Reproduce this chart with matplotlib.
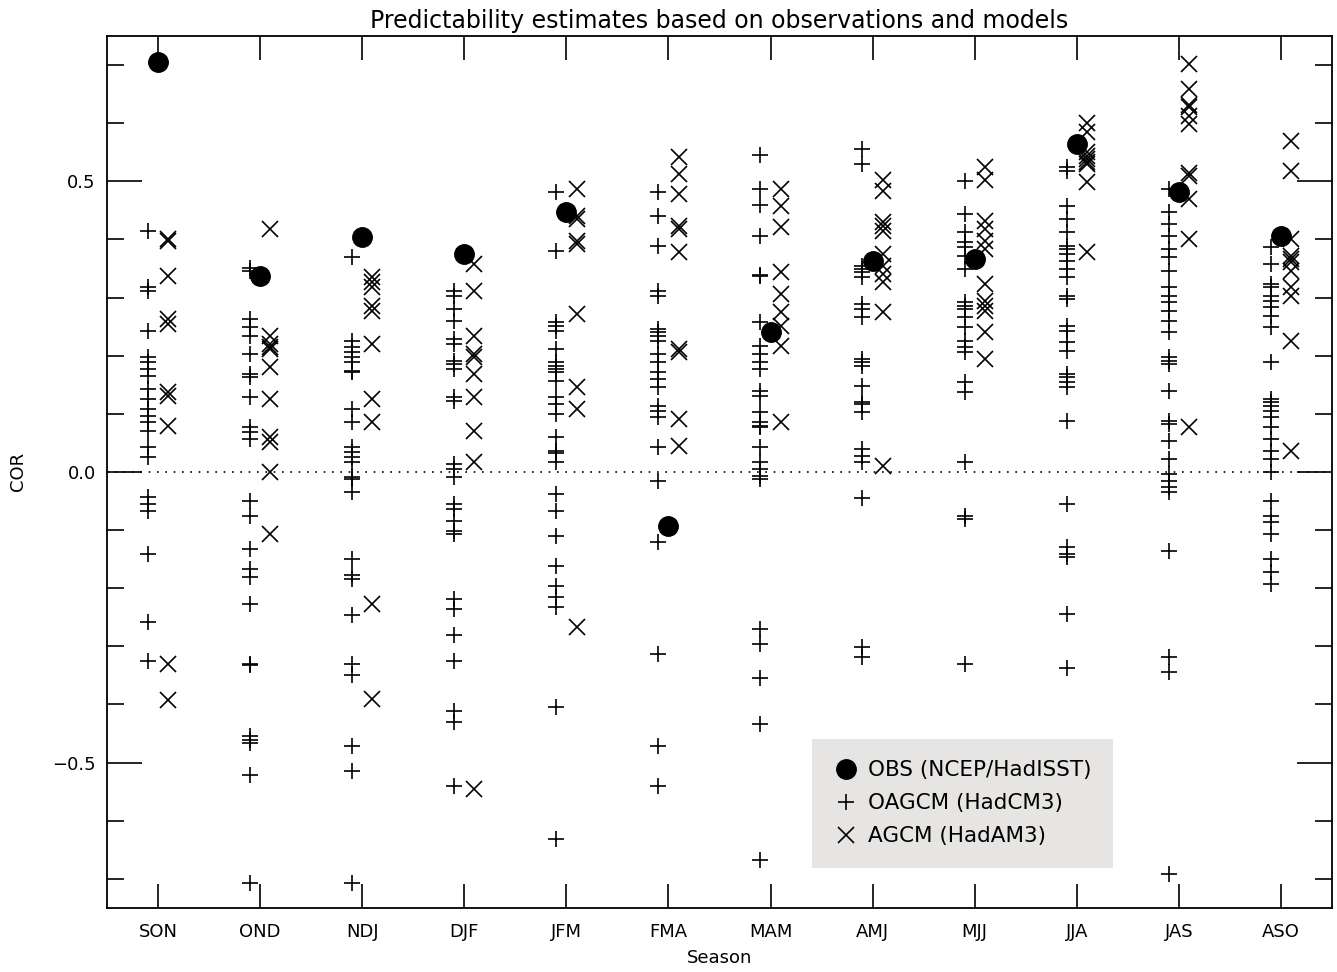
import numpy as np
import matplotlib
matplotlib.use("Agg")
import matplotlib.pyplot as plt
from matplotlib.ticker import MultipleLocator

seasons = ['SON', 'OND', 'NDJ', 'DJF', 'JFM', 'FMA', 'MAM', 'AMJ', 'MJJ', 'JJA', 'JAS', 'ASO']

obs = [0.706, 0.337, 0.404, 0.375, 0.448, -0.093, 0.241, 0.363, 0.366, 0.564, 0.481, 0.406]

# coupled model (OAGCM) ensemble values per season
oagcm = [
    [0.414, 0.318, 0.311, 0.242, 0.198, 0.189, 0.177, 0.165, 0.143, 0.125, 0.108, 0.096,
     0.086, 0.070, 0.043, 0.026, -0.043, -0.055, -0.067, -0.141, -0.258, -0.325],
    [0.350, 0.345, 0.263, 0.249, 0.234, 0.203, 0.168, 0.163, 0.129, 0.077, 0.069, 0.057,
     -0.050, -0.075, -0.132, -0.167, -0.180, -0.227, -0.330, -0.333, -0.455, -0.462,
     -0.467, -0.522, -0.708],
    [0.369, 0.225, 0.215, 0.206, 0.198, 0.189, 0.174, 0.172, 0.108, 0.086, 0.043, 0.034,
     0.026, 0.017, -0.009, -0.012, -0.034, -0.149, -0.178, -0.184, -0.247, -0.330,
     -0.350, -0.471, -0.514, -0.708],
    [0.311, 0.302, 0.280, 0.259, 0.228, 0.220, 0.191, 0.186, 0.177, 0.129, 0.122, 0.014,
     0.005, -0.009, -0.055, -0.064, -0.084, -0.101, -0.107, -0.218, -0.235, -0.281,
     -0.325, -0.412, -0.430, -0.541],
    [0.481, 0.380, 0.258, 0.251, 0.242, 0.211, 0.189, 0.182, 0.177, 0.172, 0.156, 0.129,
     0.117, 0.100, 0.060, 0.036, 0.033, 0.017, -0.038, -0.067, -0.110, -0.162, -0.196,
     -0.215, -0.232, -0.404, -0.631],
    [0.481, 0.440, 0.388, 0.311, 0.302, 0.246, 0.241, 0.234, 0.225, 0.203, 0.189, 0.172,
     0.160, 0.146, 0.113, 0.105, 0.095, 0.043, -0.015, -0.120, -0.313, -0.471, -0.541],
    [0.545, 0.486, 0.459, 0.406, 0.338, 0.337, 0.258, 0.217, 0.203, 0.189, 0.177, 0.139,
     0.131, 0.103, 0.086, 0.079, 0.077, 0.043, 0.017, 0.005, -0.007, -0.012, -0.270,
     -0.296, -0.354, -0.433, -0.668],
    [0.555, 0.529, 0.354, 0.349, 0.344, 0.335, 0.289, 0.280, 0.266, 0.194, 0.189, 0.182,
     0.148, 0.120, 0.117, 0.103, 0.040, 0.027, 0.017, -0.045, -0.301, -0.318],
    [0.500, 0.443, 0.412, 0.395, 0.387, 0.371, 0.349, 0.292, 0.285, 0.280, 0.266, 0.249,
     0.225, 0.215, 0.206, 0.155, 0.137, 0.017, -0.075, -0.081, -0.330],
    [0.524, 0.517, 0.457, 0.435, 0.412, 0.388, 0.383, 0.375, 0.363, 0.349, 0.335, 0.302,
     0.297, 0.251, 0.242, 0.223, 0.208, 0.168, 0.163, 0.155, 0.146, 0.088, -0.055,
     -0.129, -0.141, -0.146, -0.244, -0.337],
    [0.486, 0.447, 0.426, 0.406, 0.383, 0.369, 0.345, 0.318, 0.302, 0.292, 0.277, 0.259,
     0.241, 0.198, 0.191, 0.186, 0.139, 0.088, 0.082, 0.053, 0.022, -0.003, -0.015,
     -0.026, -0.034, -0.136, -0.318, -0.344, -0.691],
    [0.387, 0.357, 0.323, 0.318, 0.302, 0.294, 0.284, 0.268, 0.249, 0.189, 0.125, 0.120,
     0.113, 0.105, 0.095, 0.077, 0.057, 0.036, 0.022, 0.000, -0.050, -0.075, -0.086,
     -0.107, -0.149, -0.172, -0.192],
]

# atmosphere-only model (AGCM) values per season
agcm = [
    [0.400, 0.398, 0.337, 0.263, 0.254, 0.137, 0.131, 0.079, -0.330, -0.393],
    [0.418, 0.234, 0.220, 0.215, 0.211, 0.180, 0.125, 0.060, 0.052, 0.000, -0.107],
    [0.335, 0.326, 0.318, 0.285, 0.277, 0.220, 0.125, 0.086, -0.227, -0.390],
    [0.357, 0.311, 0.234, 0.203, 0.198, 0.168, 0.129, 0.070, 0.017, -0.545],
    [0.486, 0.440, 0.435, 0.397, 0.392, 0.271, 0.146, 0.108, -0.266],
    [0.541, 0.512, 0.478, 0.423, 0.418, 0.378, 0.211, 0.206, 0.091, 0.045],
    [0.486, 0.457, 0.421, 0.344, 0.306, 0.275, 0.251, 0.217, 0.086],
    [0.503, 0.483, 0.430, 0.423, 0.414, 0.375, 0.354, 0.340, 0.326, 0.275, 0.010],
    [0.524, 0.503, 0.431, 0.418, 0.397, 0.383, 0.323, 0.294, 0.285, 0.277, 0.241, 0.194],
    [0.601, 0.584, 0.550, 0.543, 0.538, 0.534, 0.529, 0.498, 0.378],
    [0.701, 0.658, 0.632, 0.627, 0.612, 0.598, 0.515, 0.509, 0.469, 0.400, 0.077],
    [0.569, 0.517, 0.400, 0.371, 0.366, 0.361, 0.345, 0.318, 0.302, 0.225, 0.036],
]

plt.rcParams['font.family'] = 'DejaVu Sans'
fig = plt.figure(figsize=(13.37, 9.72), dpi=100)
ax = fig.add_axes([0.080, 0.066, 0.9163, 0.897])

xpos = np.arange(1, len(seasons) + 1)
for i, x in enumerate(xpos):
    ax.plot(np.full(len(oagcm[i]), x - 0.1), oagcm[i], ls='none', marker='+',
            ms=12, mew=1.2, color='black')
    ax.plot(np.full(len(agcm[i]), x + 0.1), agcm[i], ls='none', marker='x',
            ms=11, mew=1.2, color='black')
ax.plot(xpos, obs, ls='none', marker='o', ms=14, color='black')

ax.axhline(0, color='black', ls=(0, (1, 4)), lw=1.2)

ax.set_xlim(0.5, 12.5)
ax.set_ylim(-0.75, 0.75)
ax.set_xticks(xpos)
ax.set_xticklabels(seasons)
ax.set_yticks([-0.5, 0.0, 0.5])
ax.set_yticklabels(['\u22120.5', '0.0', '0.5'])
ax.yaxis.set_minor_locator(MultipleLocator(0.1))
ax.tick_params(axis='x', which='major', direction='in', length=17, width=1.2,
               top=True, labelsize=13, pad=11)
ax.tick_params(axis='y', which='major', direction='in', length=25, width=1.2,
               right=True, labelsize=13, pad=8)
ax.tick_params(axis='y', which='minor', direction='in', length=12, width=1.2,
               right=True)
for sp in ax.spines.values():
    sp.set_linewidth(1.3)

ax.set_xlabel('Season', fontsize=13, labelpad=6)
ax.set_ylabel('COR', fontsize=13, labelpad=18)
ax.set_title('Predictability estimates based on observations and models',
             fontsize=17, pad=6)

h1, = ax.plot([], [], ls='none', marker='o', ms=14, color='black')
h2, = ax.plot([], [], ls='none', marker='+', ms=12, mew=1.2, color='black')
h3, = ax.plot([], [], ls='none', marker='x', ms=11, mew=1.2, color='black')
leg = ax.legend([h1, h2, h3], ['OBS (NCEP/HadISST)', 'OAGCM (HadCM3)', 'AGCM (HadAM3)'],
                loc='lower left', bbox_to_anchor=(0.5755, 0.046), fontsize=15.5,
                frameon=True, fancybox=False, facecolor='#e6e5e3', edgecolor='none',
                framealpha=1, handletextpad=0.4, borderpad=1.0, labelspacing=0.6,
                handlelength=1.2, borderaxespad=0)

fig.savefig('out.png', dpi=100)
